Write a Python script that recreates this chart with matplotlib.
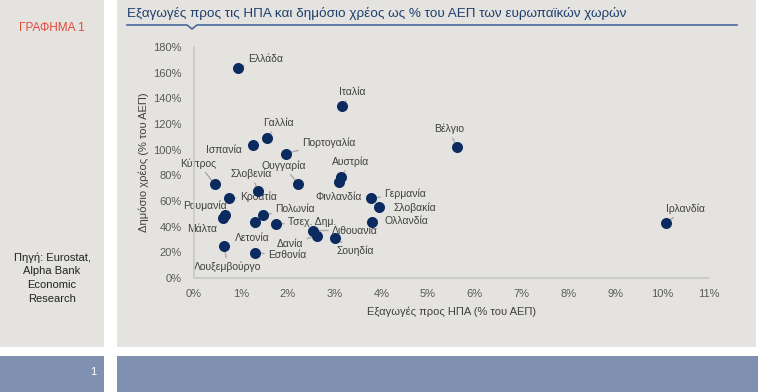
import matplotlib
matplotlib.use("Agg")
import matplotlib.pyplot as plt
from matplotlib.patches import Rectangle
from matplotlib.ticker import FuncFormatter

plt.rcParams['font.family'] = ['Liberation Sans', 'DejaVu Sans']

# δεδομένα: εξαγωγές προς ΗΠΑ (% ΑΕΠ), δημόσιο χρέος (% ΑΕΠ)
countries = ["Ελλάδα", "Ιταλία", "Βέλγιο", "Ιρλανδία", "Γαλλία", "Ισπανία",
             "Πορτογαλία", "Κύπρος", "Ουγγαρία", "Αυστρία", "Φινλανδία",
             "Σλοβενία", "Κροατία", "Ρουμανία", "Μάλτα", "Πολωνία", "Λετονία",
             "Τσεχ. Δημ.", "Λιθουανία", "Δανία", "Σουηδία", "Γερμανία",
             "Σλοβακία", "Ολλανδία", "Λουξεμβούργο", "Εσθονία"]
exports = [0.94, 3.17, 5.61, 10.08, 1.56, 1.26,
           1.97, 0.44, 2.23, 3.15, 3.10,
           1.36, 0.75, 0.63, 0.67, 1.48, 1.31,
           1.76, 2.55, 2.63, 3.02, 3.77,
           3.96, 3.81, 0.64, 1.31]
debt = [164, 134, 102, 43, 109, 104,
        97, 73, 73, 79, 75,
        68, 62, 47, 49, 49, 44,
        42, 37, 33, 31, 62,
        55, 44, 25, 19.5]

# θέση ετικέτας (offset σε pixels), στοίχιση, γραμμή οδηγός
lbl_dx = [10, 10, -8, 20, 11, -11, 16, -16, -15, 9, -1,
          -6, 11, -18, -23, 12, -3, 12, 19, -14, 20, 14,
          14, 12, 4, 13]
lbl_dy = [9, 14, 18, 14, 15, -5, 11, 21, 19, 15, -15,
          17, 2, 12, -14, 6, -16, 2, 0, -8, -13, 5,
          0, 1, -21, -2]
lbl_ha = ["left", "center", "center", "center", "center", "right", "left",
          "center", "center", "center", "center", "center", "left", "center",
          "center", "left", "center", "left", "left", "right", "center", "left",
          "left", "left", "center", "left"]
leader = [1, 1, 1, 1, 1, 0, 1, 1, 1, 1, 1, 1, 1, 0, 0, 1, 1, 1, 1, 1, 1, 1,
          0, 0, 1, 1]

fig = plt.figure(figsize=(7.58, 3.92), dpi=100)
W, H = 758, 392


def box(x0, y0, x1, y1, color):
    fig.patches.append(Rectangle((x0 / W, 1 - y1 / H), (x1 - x0) / W, (y1 - y0) / H,
                                 transform=fig.transFigure, fc=color, ec="none", zorder=-5))


gray = "#e4e3df"
band = "#7f90b0"
box(0, 0, 104, 347, gray)
box(117, 0, 756, 347, gray)
box(0, 356, 104, 392, band)
box(117, 356, 758, 392, band)

# заголовок
fig.text(127 / W, 1 - 14 / H, "Εξαγωγές προς τις ΗΠΑ και δημόσιο χρέος ως % του ΑΕΠ των ευρωπαϊκών χωρών",
         color="#1f3f6e", fontsize=9.7, va="center", ha="left")
fig.lines.append(plt.Line2D([127 / W, 187 / W, 192 / W, 197 / W, 737 / W],
                            [1 - 25 / H, 1 - 25 / H, 1 - 29 / H, 1 - 25 / H, 1 - 25 / H],
                            transform=fig.transFigure, color="#4a6a9a", lw=1.2))

fig.text(52 / W, 1 - 28 / H, "ΓΡΑΦΗΜΑ 1", color="#e8473b", fontsize=8.5,
         ha="center", va="center")
fig.text(52 / W, 1 - 278 / H, "Πηγή: Eurostat,\nAlpha Bank\nEconomic\nResearch",
         color="#222222", fontsize=8, ha="center", va="center", linespacing=1.45)
fig.text(93 / W, 1 - 372 / H, "1", color="white", fontsize=8, ha="center", va="center")

ax = fig.add_axes([194 / W, 1 - 278 / H, (709 - 194) / W, (278 - 47) / H])
ax.set_facecolor("none")
ax.set_xlim(0, 11)
ax.set_ylim(0, 180)
ax.set_xticks(range(0, 12))
ax.set_yticks(range(0, 181, 20))
ax.xaxis.set_major_formatter(FuncFormatter(lambda v, p: f"{v:.0f}%"))
ax.yaxis.set_major_formatter(FuncFormatter(lambda v, p: f"{v:.0f}%"))
ax.tick_params(length=0, labelsize=8, colors="#595959", pad=9)
ax.tick_params(axis="x", pad=8)
for s in ["top", "right"]:
    ax.spines[s].set_visible(False)
for s in ["left", "bottom"]:
    ax.spines[s].set_color("#c8c8c8")
    ax.spines[s].set_linewidth(1.2)

ax.scatter(exports, debt, s=48, color="#0b2a60", zorder=3, clip_on=False)

for i, name in enumerate(countries):
    props = dict(arrowstyle="-", color="#aaaaaa", lw=1, shrinkA=1, shrinkB=0) if leader[i] else None
    ax.annotate(name, (exports[i], debt[i]), xytext=(lbl_dx[i], lbl_dy[i]),
                textcoords="offset pixels", ha=lbl_ha[i], va="center",
                fontsize=7.5, color="#404040", arrowprops=props, zorder=2)

ax.set_xlabel("Εξαγωγές προς ΗΠΑ (% του ΑΕΠ)", fontsize=8, color="#404040", labelpad=5)
ax.set_ylabel("Δημόσιο χρέος (% του ΑΕΠ)", fontsize=8, color="#404040", labelpad=3)

fig.savefig("out.png", dpi=100)
